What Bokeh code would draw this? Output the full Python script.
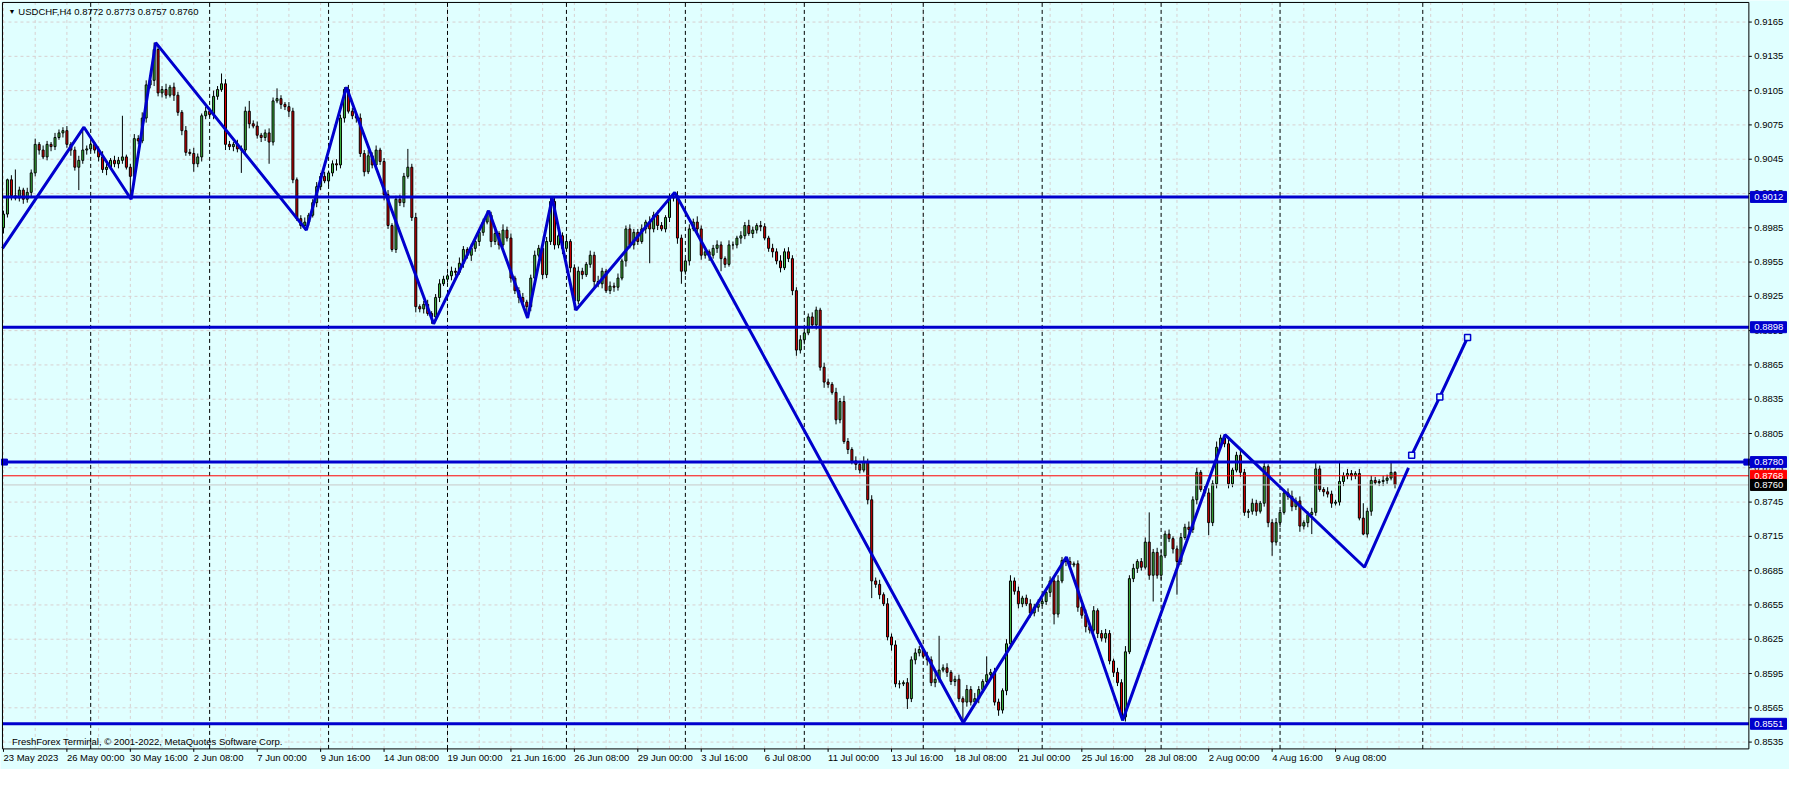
from bokeh.plotting import figure
from bokeh.models import Range1d, ColumnDataSource
from bokeh.core.properties import value
from bokeh.embed import file_html
from bokeh.resources import INLINE

# USDCHF H4, bar 0 = 23 May 2023 08:00; prices in pips (x 0.0001)
first_open = 8985
closes = [
    8997, 9027, 9013, 9011, 9018, 9010, 9016, 9033, 9058, 9053, 9047, 9058, 9056, 9064, 9068, 9070, 9058, 9053, 9038, 9044,
    9053, 9054, 9058, 9053, 9047, 9036, 9038, 9044, 9041, 9044, 9047, 9038, 9030, 9063, 9061, 9081, 9110, 9114, 9141, 9103,
    9106, 9101, 9108, 9101, 9086, 9070, 9051, 9050, 9041, 9047, 9083, 9087, 9084, 9100, 9106, 9111, 9058, 9056, 9058, 9054,
    9053, 9087, 9076, 9074, 9066, 9064, 9068, 9060, 9096, 9098, 9093, 9091, 9087, 9027, 8993, 8987, 8990, 8996, 9007, 9021,
    9030, 9026, 9033, 9041, 9040, 9081, 9106, 9087, 9083, 9081, 9050, 9034, 9048, 9040, 9053, 9043, 9014, 8987, 8966, 9010,
    9007, 9030, 9038, 8994, 8916, 8914, 8918, 8910, 8907, 8924, 8936, 8940, 8943, 8947, 8946, 8954, 8966, 8961, 8967, 8973,
    8981, 8990, 8996, 8973, 8980, 8970, 8983, 8976, 8941, 8930, 8924, 8920, 8916, 8941, 8961, 8967, 8944, 8973, 9008, 8970,
    8978, 8967, 8973, 8950, 8921, 8947, 8944, 8953, 8961, 8938, 8936, 8947, 8930, 8934, 8933, 8941, 8956, 8984, 8970, 8981,
    8973, 8984, 8990, 8984, 8996, 8987, 8984, 8994, 9011, 9013, 8976, 8947, 8956, 8984, 8990, 8984, 8961, 8964, 8961, 8967,
    8970, 8958, 8953, 8970, 8970, 8976, 8978, 8987, 8980, 8983, 8987, 8986, 8976, 8967, 8964, 8956, 8950, 8964, 8958, 8930,
    8878, 8887, 8893, 8907, 8900, 8913, 8863, 8850, 8848, 8841, 8817, 8833, 8798, 8791, 8781, 8778, 8773, 8780, 8747, 8676,
    8673, 8664, 8656, 8627, 8620, 8586, 8586, 8587, 8573, 8607, 8613, 8616, 8610, 8607, 8587, 8590, 8598, 8600, 8596, 8588,
    8590, 8573, 8570, 8581, 8570, 8573, 8581, 8588, 8594, 8596, 8570, 8563, 8580, 8621, 8676, 8667, 8656, 8661, 8656, 8648,
    8653, 8656, 8658, 8666, 8676, 8647, 8676, 8694, 8693, 8690, 8691, 8653, 8646, 8636, 8633, 8650, 8630, 8626, 8630, 8606,
    8596, 8587, 8557, 8614, 8678, 8687, 8693, 8688, 8710, 8681, 8701, 8681, 8698, 8717, 8713, 8704, 8693, 8714, 8723, 8721,
    8747, 8771, 8756, 8753, 8727, 8761, 8793, 8801, 8796, 8761, 8773, 8786, 8771, 8736, 8737, 8744, 8737, 8744, 8776, 8727,
    8710, 8727, 8736, 8753, 8750, 8741, 8746, 8724, 8727, 8734, 8736, 8774, 8756, 8754, 8752, 8744, 8745, 8763, 8768, 8770,
    8768, 8770, 8731, 8717, 8737, 8764, 8762, 8763, 8764, 8766, 8771, 8760,
]
wick_up = [
    3, 1, 4, 23, 3, 2, 4, 3, 5, 2, 4, 3, 2, 4, 3, 3, 4, 2, 3, 4,
    20, 3, 4, 2, 3, 5, 3, 2, 4, 3, 36, 2, 3, 4, 3, 5, 4, 3, 6, 4,
    3, 5, 2, 4, 3, 2, 4, 3, 5, 3, 2, 4, 3, 5, 3, 9, 4, 3, 2, 4,
    3, 4, 9, 3, 4, 2, 3, 4, 3, 9, 3, 2, 4, 3, 2, 3, 4, 2, 3, 4,
    3, 4, 2, 3, 4, 3, 2, 4, 3, 2, 4, 3, 5, 3, 4, 2, 3, 4, 2, 3,
    4, 3, 16, 3, 4, 2, 3, 4, 2, 3, 4, 3, 2, 4, 3, 5, 3, 2, 4, 3,
    2, 3, 4, 3, 4, 2, 5, 3, 4, 2, 3, 4, 2, 3, 4, 3, 2, 4, 3, 3,
    4, 3, 5, 2, 3, 4, 3, 2, 4, 3, 5, 3, 2, 4, 3, 4, 2, 3, 4, 3,
    3, 4, 2, 5, 3, 4, 3, 2, 4, 3, 4, 3, 2, 4, 3, 5, 3, 4, 2, 3,
    4, 3, 2, 4, 3, 2, 4, 3, 5, 3, 2, 4, 3, 2, 4, 3, 5, 3, 4, 3,
    3, 4, 5, 3, 4, 3, 2, 4, 3, 2, 4, 3, 5, 3, 2, 4, 3, 5, 3, 4,
    3, 4, 2, 5, 3, 4, 3, 2, 4, 3, 4, 3, 2, 4, 3, 5, 30, 3, 4, 2,
    3, 4, 2, 4, 3, 5, 3, 2, 16, 3, 4, 3, 2, 4, 5, 3, 4, 2, 3, 4,
    3, 4, 2, 3, 4, 3, 5, 3, 3, 4, 2, 3, 4, 5, 3, 4, 2, 3, 4, 3,
    2, 4, 3, 5, 3, 4, 2, 3, 4, 26, 3, 4, 5, 3, 4, 2, 3, 4, 3, 5,
    3, 4, 2, 3, 4, 3, 5, 3, 3, 4, 2, 3, 4, 3, 2, 4, 3, 2, 4, 2,
    3, 4, 2, 3, 4, 5, 3, 4, 2, 3, 4, 7, 3, 2, 4, 3, 2, 18, 3, 4,
    3, 2, 4, 13, 3, 4, 3, 2, 4, 3, 9, 1,
]
wick_dn = [
    5, 3, 4, 2, 3, 4, 3, 5, 3, 4, 2, 3, 4, 3, 2, 4, 3, 5, 3, 20,
    3, 4, 2, 3, 4, 3, 5, 2, 3, 4, 3, 2, 19, 4, 3, 2, 4, 3, 5, 3,
    4, 3, 2, 5, 3, 4, 3, 2, 7, 3, 4, 3, 2, 4, 3, 2, 5, 3, 4, 3,
    20, 3, 4, 2, 3, 4, 3, 19, 3, 2, 4, 3, 5, 3, 2, 3, 4, 3, 2, 4,
    3, 2, 4, 3, 5, 3, 4, 2, 3, 4, 3, 4, 2, 3, 4, 3, 5, 3, 2, 3,
    3, 4, 2, 3, 5, 3, 4, 2, 6, 3, 4, 2, 3, 4, 3, 2, 4, 3, 5, 3,
    4, 3, 2, 5, 3, 4, 2, 3, 4, 3, 5, 3, 10, 4, 3, 2, 4, 3, 3, 4,
    3, 5, 2, 4, 8, 3, 4, 2, 3, 5, 3, 4, 2, 3, 4, 3, 2, 5, 3, 4,
    3, 2, 4, 30, 3, 4, 2, 3, 4, 3, 5, 11, 3, 4, 2, 3, 4, 3, 5, 3,
    4, 11, 3, 2, 4, 3, 5, 3, 2, 4, 3, 4, 2, 3, 5, 3, 4, 2, 3, 4,
    5, 3, 4, 2, 3, 4, 3, 5, 3, 2, 4, 3, 2, 4, 3, 5, 3, 2, 4, 15,
    3, 4, 2, 3, 5, 3, 4, 2, 9, 3, 4, 3, 2, 5, 3, 4, 3, 2, 4, 3,
    4, 3, 17, 4, 3, 2, 4, 3, 2, 4, 3, 5, 3, 4, 2, 3, 4, 3, 2, 4,
    3, 4, 2, 3, 4, 9, 3, 2, 4, 3, 2, 4, 3, 5, 3, 2, 4, 3, 4, 3,
    4, 3, 3, 4, 2, 3, 4, 3, 2, 4, 23, 3, 4, 2, 3, 4, 29, 3, 2, 4,
    3, 4, 2, 3, 11, 3, 4, 2, 3, 4, 3, 2, 4, 3, 5, 3, 4, 2, 3, 4,
    12, 3, 4, 2, 3, 4, 3, 5, 3, 4, 17, 3, 2, 4, 3, 4, 2, 3, 4, 3,
    4, 3, 2, 1, 3, 4, 2, 3, 4, 3, 2, 3,
]

# zigzag indicator vertices (bar index, price) and projected leg
zz_idx = [-0.25, 20.3, 32.2, 38.4, 76.4, 86.5, 108.5, 122.4, 132.2, 138.4, 144.4,
          169.3, 242.1, 268.1, 282.3, 308.1, 343.3, 354.4]
zz_price = [0.8967, 0.9073, 0.9010, 0.9147, 0.8983, 0.9108, 0.8901, 0.9000, 0.8906,
            0.9011, 0.8913, 0.9016, 0.8552, 0.8697, 0.8554, 0.8804, 0.8688, 0.8775]
proj_idx = [355.2, 362.3, 369.3]
proj_price = [0.8786, 0.8837, 0.8889]

levels = [0.9012, 0.8898, 0.8780, 0.8551]
level_anchor_idx = [0.25, 439.75]
ask_price = 0.8768
bid_price = 0.8760

week_starts = [22, 52, 82, 112, 142, 172, 202, 232, 262, 292, 322, 358]
x_labels = ["23 May 2023", "26 May 00:00", "30 May 16:00", "2 Jun 08:00", "7 Jun 00:00",
            "9 Jun 16:00", "14 Jun 08:00", "19 Jun 00:00", "21 Jun 16:00", "26 Jun 08:00",
            "29 Jun 00:00", "3 Jul 16:00", "6 Jul 08:00", "11 Jul 00:00", "13 Jul 16:00",
            "18 Jul 08:00", "21 Jul 00:00", "25 Jul 16:00", "28 Jul 08:00", "2 Aug 00:00",
            "4 Aug 16:00", "9 Aug 08:00"]
x_label_idx = [16 * k for k in range(len(x_labels))]
y_ticks = [0.8535, 0.8565, 0.8595, 0.8625, 0.8655, 0.8685, 0.8715, 0.8745, 0.8775,
           0.8805, 0.8835, 0.8865, 0.8895, 0.8925, 0.8955, 0.8985, 0.9015, 0.9045,
           0.9075, 0.9105, 0.9135, 0.9165]
grid_x = list(range(0, 440, 8))

# chart box (bar index / price) and the whole canvas around it
X0, X1 = -0.25, 440.25
Y0, Y1 = 0.852903, 0.918214
BG = "#E0FFFF"
BLUE = "#0000CD"
FONT = value("Liberation Sans")
FS = "9.5px"
PX = 1 / 11667  # price per pixel of the original chart

opens = [first_open] + closes[:-1]
tops = [max(o, c) for o, c in zip(opens, closes)]
bots = [min(o, c) for o, c in zip(opens, closes)]
src = ColumnDataSource(dict(
    x=list(range(len(closes))),
    top=[v / 10000 for v in tops],
    bottom=[v / 10000 for v in bots],
    high=[(t + u) / 10000 for t, u in zip(tops, wick_up)],
    low=[(b - d) / 10000 for b, d in zip(bots, wick_dn)],
    color=["#3DB83D" if c >= o else "#E00000" for o, c in zip(opens, closes)],
))

p = figure(width=1789, height=769, x_range=Range1d(-0.75, 450.5),
           y_range=Range1d(0.851102, 0.918386),
           x_axis_location=None, y_axis_location=None, toolbar_location=None,
           output_backend="svg", min_border=0,
           background_fill_color=BG, border_fill_color=BG, outline_line_color=None)
p.grid.visible = False

# grid
p.segment(x0=grid_x, y0=Y0, x1=grid_x, y1=Y1, line_color="#d8d0d0", line_width=1, line_dash="3 3")
p.segment(x0=X0, y0=y_ticks, x1=X1, y1=y_ticks, line_color="#d8d0d0", line_width=1, line_dash="3 3")

# weekly separators
p.segment(x0=week_starts, y0=Y0, x1=week_starts, y1=Y1, line_color="black",
          line_width=1, line_dash="4 3")

# candles
p.segment(x0="x", y0="low", x1="x", y1="high", source=src, line_color="black", line_width=1)
p.vbar(x="x", width=0.5, top="top", bottom="bottom", source=src,
       fill_color="color", line_color="black", line_width=1)

# price lines
p.segment(x0=X0, y0=bid_price, x1=X1, y1=bid_price, line_color="#C8C8C8", line_width=1)
p.segment(x0=X0, y0=ask_price, x1=X1, y1=ask_price, line_color="#FF0000", line_width=1)
p.segment(x0=X0, y0=levels, x1=X1, y1=levels, line_color=BLUE, line_width=3)
p.scatter(level_anchor_idx, [levels[2]] * 2, marker="square", size=6,
          fill_color=BLUE, line_color=BLUE)

# zigzag
p.line(zz_idx, zz_price, line_color=BLUE, line_width=3)
p.line(proj_idx, proj_price, line_color=BLUE, line_width=3)
p.scatter(proj_idx, proj_price, marker="square", size=6, fill_color=BG,
          line_color=BLUE, line_width=1.5)

# chart frame and price scale
p.segment(x0=[X0, X0, X0, X1], y0=[Y0, Y1, Y0, Y0], x1=[X0, X1, X1, X1], y1=[Y1, Y1, Y0, Y1],
          line_color="black", line_width=1)
p.segment(x0=X1, y0=y_ticks, x1=X1 + 0.75, y1=y_ticks, line_color="black", line_width=1)
p.text(x=X1 + 1.35, y=y_ticks, text=["%.4f" % t for t in y_ticks], text_font=FONT,
       text_font_size=FS, text_color="black", text_align="left", text_baseline="middle")

# price boxes on the scale
box_price = [levels[0], levels[1], levels[2], levels[3], ask_price, bid_price]
box_color = [BLUE, BLUE, BLUE, BLUE, "#FF0000", "black"]
p.rect(x=X1 + 4.95, y=box_price, width=36, height=11, width_units="screen",
       height_units="screen", fill_color=box_color, line_color=box_color)
p.text(x=X1 + 1.35, y=box_price, text=["%.4f" % v for v in box_price], text_font=FONT,
       text_font_size=FS, text_color="white", text_align="left", text_baseline="middle")

# time scale
p.segment(x0=x_label_idx, y0=Y0, x1=x_label_idx, y1=Y0 - 3 * PX, line_color="black", line_width=1)
p.text(x=x_label_idx, y=Y0 - 9 * PX, text=x_labels, text_font=FONT, text_font_size=FS,
       text_color="black", text_align="left", text_baseline="middle")

# header and footer
p.text(x=[X0 + 2.4], y=[Y1 - 9 * PX], text=["\u25bc"], text_font_size="7px",
       text_color="black", text_align="center", text_baseline="middle")
p.text(x=[X0 + 4.0], y=[Y1 - 9 * PX], text=["USDCHF,H4  0.8772 0.8773 0.8757 0.8760"],
       text_font=FONT, text_font_size=FS, text_color="black", text_baseline="middle")
p.text(x=[X0 + 2.4], y=[Y0 + 8 * PX],
       text=["FreshForex Terminal, \u00a9 2001-2022, MetaQuotes Software Corp."],
       text_font=FONT, text_font_size=FS, text_color="black", text_baseline="middle")

open("out.html", "w").write(file_html(p, INLINE))
